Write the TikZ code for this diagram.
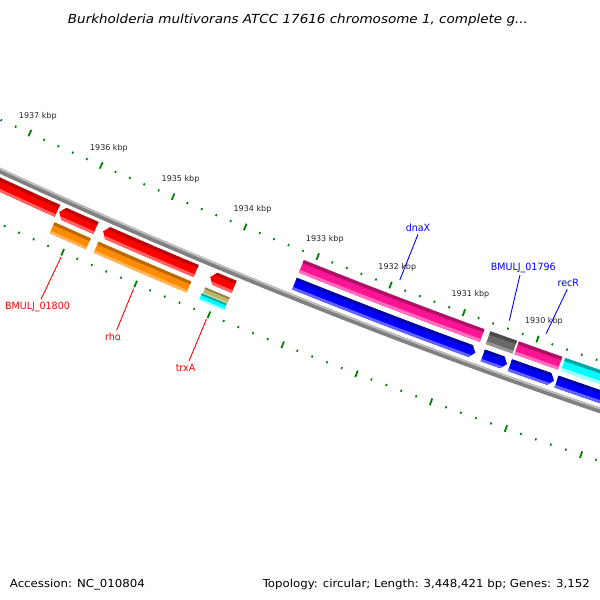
\documentclass[tikz,border=0pt]{standalone}
\usepackage{fontspec}
\setmainfont{DejaVu Sans}
\newfontfamily\labfont[FakeStretch=0.95]{DejaVu Sans}
\newfontfamily\footfont[FakeStretch=1.07]{DejaVu Sans}
\newfontfamily\ttlfont[FakeStretch=1.08]{DejaVu Sans Oblique}
\newfontfamily\tickfont{DejaVu Sans}
\definecolor{redB}{RGB}{255,0,0}\definecolor{redD}{RGB}{190,0,0}\definecolor{redL}{RGB}{255,100,100}
\definecolor{orgB}{RGB}{255,140,0}\definecolor{orgD}{RGB}{185,105,0}\definecolor{orgL}{RGB}{255,180,90}
\definecolor{pnkB}{RGB}{255,20,147}\definecolor{pnkD}{RGB}{175,15,100}\definecolor{pnkL}{RGB}{255,110,190}
\definecolor{bluB}{RGB}{0,0,255}\definecolor{bluD}{RGB}{0,0,170}\definecolor{bluL}{RGB}{100,100,255}
\definecolor{gryB}{RGB}{105,105,105}\definecolor{gryD}{RGB}{75,75,75}\definecolor{gryL}{RGB}{150,150,150}
\definecolor{cyaB}{RGB}{0,255,255}\definecolor{cyaD}{RGB}{0,165,165}\definecolor{cyaL}{RGB}{160,255,255}
\definecolor{tanB}{RGB}{189,183,107}\definecolor{tanD}{RGB}{140,132,75}\definecolor{tanL}{RGB}{215,210,150}
\definecolor{bbL}{RGB}{190,190,190}\definecolor{bbD}{RGB}{128,128,128}
\definecolor{tickgreen}{RGB}{0,128,0}
\definecolor{labblue}{RGB}{0,0,255}\definecolor{labred}{RGB}{255,0,0}
\newcommand{\gbands}[5]{%
  \pgfmathsetmacro\gA{#1-0.1}%
  \pgfmathsetmacro\gB{#2+0.1}%
  \pgfmathsetmacro\gD{#3+0.25*(#4-#3)}%
  \pgfmathsetmacro\gL{#4-0.22*(#4-#3)}%
  \pgfmathsetmacro\gP{#3-1}%
  \pgfmathsetmacro\gQ{#4+1}%
  \fill[#5D] (\gA:\gP) arc[start angle=\gA,end angle=\gB,radius=\gP] -- (\gB:\gD) arc[start angle=\gB,end angle=\gA,radius=\gD] -- cycle;
  \fill[#5L] (\gA:\gL) arc[start angle=\gA,end angle=\gB,radius=\gL] -- (\gB:\gQ) arc[start angle=\gB,end angle=\gA,radius=\gQ] -- cycle;
}
\newcommand{\plainbar}[5]{%
  \fill[#5B] (#1:#3) arc[start angle=#1,end angle=#2,radius=#3] -- (#2:#4) arc[start angle=#2,end angle=#1,radius=#4] -- cycle;
  \begin{scope}
  \clip (#1:#3) arc[start angle=#1,end angle=#2,radius=#3] -- (#2:#4) arc[start angle=#2,end angle=#1,radius=#4] -- cycle;
  \gbands{#1}{#2}{#3}{#4}{#5}
  \end{scope}}
\newcommand{\fwdbar}[5]{%
  \pgfmathsetmacro\gH{#1+0.048}\pgfmathsetmacro\gM{(#3+#4)/2}%
  \fill[#5B] (#1:\gM) -- (\gH:#3) arc[start angle=\gH,end angle=#2,radius=#3] -- (#2:#4) arc[start angle=#2,end angle=\gH,radius=#4] -- cycle;
  \begin{scope}
  \clip (#1:\gM) -- (\gH:#3) arc[start angle=\gH,end angle=#2,radius=#3] -- (#2:#4) arc[start angle=#2,end angle=\gH,radius=#4] -- cycle;
  \gbands{#1}{#2}{#3}{#4}{#5}
  \end{scope}}
\newcommand{\revbar}[5]{%
  \pgfmathsetmacro\gH{#2-0.048}\pgfmathsetmacro\gM{(#3+#4)/2}%
  \fill[#5B] (#1:#3) arc[start angle=#1,end angle=\gH,radius=#3] -- (#2:\gM) -- (\gH:#4) arc[start angle=\gH,end angle=#1,radius=#4] -- cycle;
  \begin{scope}
  \clip (#1:#3) arc[start angle=#1,end angle=\gH,radius=#3] -- (#2:\gM) -- (\gH:#4) arc[start angle=\gH,end angle=#1,radius=#4] -- cycle;
  \gbands{#1}{#2}{#3}{#4}{#5}
  \end{scope}}
\tikzset{
  ticklab/.style={font=\tickfont\fontsize{8}{9.6}\selectfont, text=black!85, inner sep=0pt},
  labin/.style={font=\labfont\fontsize{10}{12}\selectfont, text=labblue, inner xsep=0pt, inner ysep=2pt, anchor=south},
  labout/.style={font=\labfont\fontsize{10}{12}\selectfont, text=labred, inner xsep=0pt, inner ysep=3pt, anchor=north},
  leadin/.style={draw=labblue, line width=0.9pt},
  leadout/.style={draw=labred, line width=0.9pt},
  foot/.style={font=\footfont\fontsize{11}{13}\selectfont, text=black, inner sep=0pt}
}
\begin{document}
\begin{tikzpicture}[x=1pt,y=1pt]
\useasboundingbox (0,-600) rectangle (600,0);
\fill[white] (0,-600) rectangle (600,0);
\begin{scope}
\clip (0,-600) rectangle (600,0);
\begin{scope}[shift={(2530,5300)}]
  % backbone
  \fill[bbD] (244.5:6025) arc[start angle=244.5,end angle=252,radius=6025] -- (252:6030.5) arc[start angle=252,end angle=244.5,radius=6030.5] -- cycle;
  \fill[bbL] (244.5:6025) arc[start angle=244.5,end angle=252,radius=6025] -- (252:6026.8) arc[start angle=252,end angle=244.5,radius=6026.8] -- cycle;
  % forward strand (outside backbone)
  \plainbar{244.5}{245.835}{6034}{6047}{red}
  \fwdbar{245.855}{246.235}{6034}{6047}{red}
  \plainbar{245.855}{246.23}{6052}{6064}{org}
  \fwdbar{246.31}{247.27}{6034}{6047}{red}
  \plainbar{246.31}{247.265}{6052}{6064}{org}
  \fwdbar{247.415}{247.66}{6034}{6047}{red}
  \plainbar{247.41}{247.66}{6052}{6059}{tan}
  \plainbar{247.40}{247.655}{6059}{6066}{cya}
  % reverse strand (inside backbone)
  \plainbar{248.18}{250.03}{5989.5}{6003}{pnk}
  \revbar{248.18}{250.025}{6008.5}{6021}{blu}
  \plainbar{250.09}{250.36}{5989.5}{6003}{gry}
  \revbar{250.10}{250.345}{6008.5}{6021}{blu}
  \plainbar{250.38}{250.82}{5989.5}{6003}{pnk}
  \revbar{250.375}{250.82}{6008.5}{6021}{blu}
  \plainbar{250.85}{252}{5989.5}{6003}{cya}
  \plainbar{250.845}{252}{6008.5}{6021}{blu}
  % rulers
  \foreach \k in {-6,...,42}{
    \pgfmathsetmacro\ta{245.29+0.15*\k}
    \pgfmathtruncatemacro\tm{mod(\k+100,5)}
    \ifnum\tm=0
      \draw[tickgreen, line width=1.8] (\ta:5977.5) -- (\ta:5984.5);
      \draw[tickgreen, line width=1.8] (\ta:6072.5) -- (\ta:6079.5);
    \else
      \draw[tickgreen, line width=1.6] (\ta:5980) -- (\ta:5982.2);
      \draw[tickgreen, line width=1.6] (\ta:6075) -- (\ta:6077.2);
    \fi
  }
  \foreach \k in {0,5,...,35}{
    \pgfmathsetmacro\ta{245.29+0.15*\k}
    \pgfmathtruncatemacro\kb{1937-\k/5}
    \node[ticklab] (tk\kb) at (\ta:5962) {\kb\ kbp};
  }
  % gene anchor points for labels
  \coordinate (g-dnaX) at (249.105:5973);
  \coordinate (g-1796) at (250.225:5973);
  \coordinate (g-recR) at (250.6:5973);
  \coordinate (g-1800) at (246.045:6081);
  \coordinate (g-rho) at (246.79:6081);
  \coordinate (g-trxA) at (247.535:6081);
\end{scope}
\end{scope}
% feature labels
\node[labin] (dnaX) at (418,-234.3) {dnaX};
\node[labin] (b1796) at (523.3,-275) {BMULJ\_01796};
\node[labin] (recR) at (568.3,-289.3) {recR};
\node[labout] (b1800) at (37.5,-299.3) {BMULJ\_01800};
\node[labout] (rho) at (113,-330) {rho};
\node[labout] (trxA) at (185.5,-361) {trxA};
\draw[leadin] (g-dnaX) -- (dnaX.south);
\draw[leadin] (g-1796) -- ([xshift=-3.3pt]b1796.south);
\draw[leadin] (g-recR) -- ([xshift=-1pt]recR.south);
\draw[leadout] (g-1800) -- ([xshift=3.5pt]b1800.north);
\draw[leadout] (g-rho) -- ([xshift=3.7pt]rho.north);
\draw[leadout] (g-trxA) -- ([xshift=3.5pt]trxA.north);
% title and footer
\node[anchor=base, inner sep=0pt, font=\ttlfont\fontsize{12.5}{15}\selectfont] (title) at (298,-23.3) {Burkholderia multivorans ATCC 17616 chromosome 1, complete g...};
\node[foot, anchor=base west] (acc) at (9.7,-587.3) {Accession: NC\_010804};
\node[foot, anchor=base east] (topo) at (590,-587.3) {Topology: circular; Length: 3,448,421 bp; Genes: 3,152};
\end{tikzpicture}
\end{document}
